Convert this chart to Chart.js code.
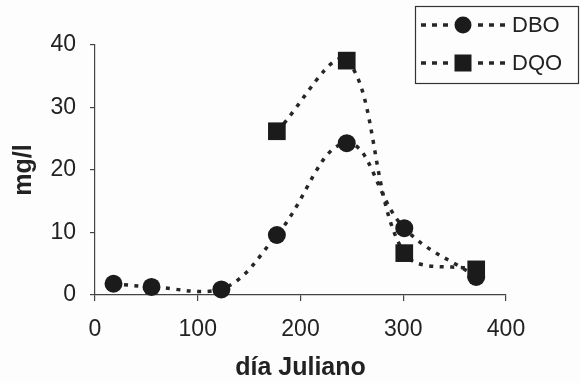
<!DOCTYPE html>
<html><head><meta charset="utf-8">
<script src="https://cdn.jsdelivr.net/npm/chart.js@4/dist/chart.umd.min.js"></script>
<style>html,body{margin:0;padding:0;background:#fdfdfd;}#c{display:block;}</style>
</head><body>
<canvas id="c" width="580" height="383"></canvas>
<script>
const dboDays = [18, 55, 123, 177, 245, 301, 371];
const dboValues = [1.8, 1.3, 0.9, 9.6, 24.3, 10.7, 2.9];
const dqoDays = [177, 245, 301, 371];
const dqoValues = [26.2, 37.5, 6.7, 4.1];
const xTicks = [0, 100, 200, 300, 400];
const yTicks = [0, 10, 20, 30, 40];
const seriesNames = ['DBO', 'DQO'];

const toPts = (xs, ys) => xs.map((x, i) => ({x, y: ys[i]}));
const ink = '#1b1b1b';
const lineInk = '#262626';
const font = 'Liberation Sans, Arial, sans-serif';

const legendPlugin = {
  id: 'boxLegend',
  afterDraw(chart) {
    const ctx = chart.ctx;
    ctx.save();
    ctx.strokeStyle = '#333'; ctx.lineWidth = 1.2;
    ctx.strokeRect(415.5, 6.5, 163, 77);
    const rows = [{y: 25, style: 'circle'}, {y: 63, style: 'rect'}];
    rows.forEach((r, i) => {
      ctx.strokeStyle = lineInk; ctx.lineWidth = 3.5; ctx.setLineDash([5, 6]);
      ctx.beginPath(); ctx.moveTo(421, r.y); ctx.lineTo(452, r.y); ctx.stroke();
      ctx.beginPath(); ctx.moveTo(478, r.y); ctx.lineTo(505, r.y); ctx.stroke();
      ctx.setLineDash([]);
      ctx.fillStyle = ink;
      if (r.style === 'circle') { ctx.beginPath(); ctx.arc(463, r.y, 8.5, 0, Math.PI*2); ctx.fill(); }
      else { ctx.fillRect(454.5, r.y - 8.5, 17, 17); }
      ctx.fillStyle = '#222'; ctx.font = '22px ' + font; ctx.textBaseline = 'middle';
      ctx.fillText(seriesNames[i], 512, r.y + 1);
    });
    ctx.restore();
  }
};

new Chart(document.getElementById('c'), {
  type: 'scatter',
  data: { datasets: [
    { label: seriesNames[0], data: toPts(dboDays, dboValues), showLine: true, tension: 0.4,
      borderColor: lineInk, borderWidth: 3.5, borderDash: [4, 6.5], pointStyle: 'circle', pointRadius: 9,
      pointBackgroundColor: ink, pointBorderColor: ink, pointBorderWidth: 0, clip: false },
    { label: seriesNames[1], data: toPts(dqoDays, dqoValues), showLine: true, tension: 0.35,
      borderColor: lineInk, borderWidth: 3.5, borderDash: [4, 6.5], pointStyle: 'rect', pointRadius: 12.5,
      pointBackgroundColor: ink, pointBorderColor: ink, pointBorderWidth: 0, clip: false }
  ]},
  options: {
    responsive: false, animation: false, devicePixelRatio: 1,
    layout: { padding: { top: 45, right: 74, left: 0, bottom: 0 } },
    plugins: { legend: { display: false }, tooltip: { enabled: false } },
    scales: {
      x: { type: 'linear', min: 0, max: 400,
        afterFit(s) { s.height = 88; },
        afterBuildTicks(s) { s.ticks = xTicks.map(v => ({value: v})); },
        grid: { drawOnChartArea: false, drawTicks: true, tickLength: 6, color: '#444', lineWidth: 1.2 },
        border: { color: '#444', width: 1.2 },
        ticks: { color: '#222', font: { family: font, size: 23 }, padding: 15, maxRotation: 0 },
        title: { display: true, text: 'día Juliano', color: '#222', font: { family: font, size: 25, weight: 'bold' }, padding: { top: 0, bottom: 0 } }
      },
      y: { type: 'linear', min: 0, max: 40,
        afterFit(s) { s.width = 95; },
        afterBuildTicks(s) { s.ticks = yTicks.map(v => ({value: v})); },
        grid: { drawOnChartArea: false, drawTicks: true, tickLength: 5, color: '#444', lineWidth: 1.2 },
        border: { color: '#444', width: 1.2 },
        ticks: { color: '#222', font: { family: font, size: 23 }, padding: 14 },
        title: { display: true, text: 'mg/l', color: '#222', font: { family: font, size: 25, weight: 'bold' }, padding: { top: 9, bottom: 0 } }
      }
    }
  },
  plugins: [legendPlugin]
});
</script>
</body></html>
